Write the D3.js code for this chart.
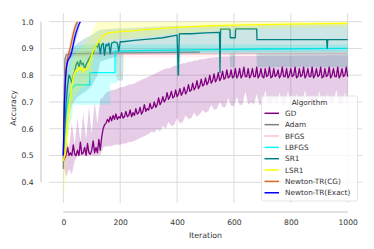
<!DOCTYPE html>
<html>
<head>
<meta charset="utf-8">
<script src="https://cdn.jsdelivr.net/npm/d3@7"></script>
<style>
  body { margin: 0; background: #fff; }
  text { font-family: "DejaVu Sans", sans-serif; fill: #333; }
</style>
</head>
<body>
<svg id="chart" width="374" height="249"></svg>
<script>
// ---- data ----
const algorithms = ["GD", "Adam", "BFGS", "LBFGS", "SR1", "LSR1", "Newton-TR(CG)", "Newton-TR(Exact)"];
const colors = ["#800080", "#808080", "#ffc0cb", "#00ffff", "#008080", "#ffff00", "#d2691e", "#0000ff"];
const xTicks = [0, 200, 400, 600, 800, 1000];
const yTicks = [0.4, 0.5, 0.6, 0.7, 0.8, 0.9, 1.0];

// GD mean, every 5 iterations (noisy)
const gdMeanIter = d3.range(0, 1001, 5);
const gdMean = [
  0.48, 0.49, 0.50, 0.53, 0.50, 0.51, 0.50, 0.54, 0.505, 0.50, 0.52, 0.50, 0.55, 0.505, 0.51, 0.53, 0.50, 0.545, 0.51, 0.505,
  0.52, 0.555, 0.51, 0.53, 0.51, 0.56, 0.52, 0.57, 0.60, 0.615, 0.62, 0.635, 0.625, 0.645, 0.63, 0.65, 0.635, 0.655, 0.635, 0.645,
  0.64, 0.66, 0.64, 0.645, 0.665, 0.645, 0.65, 0.67, 0.645, 0.66, 0.65, 0.675, 0.655, 0.66, 0.68, 0.655, 0.665, 0.69, 0.665, 0.675,
  0.67, 0.695, 0.675, 0.68, 0.70, 0.68, 0.69, 0.715, 0.69, 0.70, 0.72, 0.70, 0.71, 0.735, 0.71, 0.72, 0.74, 0.715, 0.72, 0.745,
  0.72, 0.73, 0.75, 0.725, 0.735, 0.755, 0.73, 0.74, 0.765, 0.74, 0.745, 0.77, 0.745, 0.755, 0.78, 0.75, 0.76, 0.785, 0.76, 0.765,
  0.79, 0.765, 0.775, 0.80, 0.77, 0.78, 0.805, 0.775, 0.785, 0.81, 0.78, 0.79, 0.815, 0.785, 0.79, 0.82, 0.79, 0.795, 0.82, 0.79,
  0.795, 0.825, 0.79, 0.80, 0.825, 0.79, 0.80, 0.83, 0.795, 0.795, 0.825, 0.79, 0.80, 0.825, 0.795, 0.795, 0.83, 0.79, 0.80, 0.825,
  0.795, 0.79, 0.825, 0.795, 0.80, 0.83, 0.79, 0.795, 0.825, 0.795, 0.80, 0.82, 0.79, 0.80, 0.83, 0.795, 0.795, 0.825, 0.79, 0.80,
  0.825, 0.795, 0.80, 0.83, 0.79, 0.795, 0.825, 0.795, 0.80, 0.83, 0.79, 0.80, 0.825, 0.795, 0.795, 0.83, 0.79, 0.80, 0.825, 0.795,
  0.80, 0.83, 0.79, 0.795, 0.825, 0.795, 0.80, 0.83, 0.79, 0.80, 0.825, 0.795, 0.795, 0.83, 0.79, 0.80, 0.825, 0.795, 0.80, 0.83,
  0.795
];
// GD confidence band, every 10 iterations
const gdBandIter = d3.range(0, 1001, 10);
const gdHi = [
  0.50, 0.56, 0.53, 0.62, 0.54, 0.64, 0.55, 0.66, 0.56, 0.68,
  0.58, 0.70, 0.62, 0.71, 0.72, 0.735, 0.74, 0.745, 0.745, 0.75,
  0.755, 0.755, 0.76, 0.765, 0.765, 0.77, 0.775, 0.78, 0.785, 0.79,
  0.795, 0.80, 0.805, 0.81, 0.815, 0.82, 0.825, 0.825, 0.83, 0.835,
  0.835, 0.84, 0.845, 0.845, 0.85, 0.85, 0.855, 0.855, 0.86, 0.86,
  0.862, 0.864, 0.865, 0.866, 0.868, 0.868, 0.87, 0.87, 0.87, 0.871,
  0.872, 0.872, 0.872, 0.872, 0.872, 0.872, 0.872, 0.872, 0.872, 0.872,
  0.872, 0.873, 0.873, 0.873, 0.873, 0.873, 0.873, 0.873, 0.873, 0.873,
  0.873, 0.873, 0.874, 0.874, 0.874, 0.874, 0.874, 0.874, 0.874, 0.874,
  0.874, 0.874, 0.874, 0.875, 0.875, 0.875, 0.875, 0.875, 0.875, 0.875,
  0.875
];
const gdLo = [
  0.46, 0.42, 0.45, 0.43, 0.48, 0.50, 0.50, 0.50, 0.50, 0.50,
  0.50, 0.50, 0.50, 0.50, 0.53, 0.535, 0.535, 0.535, 0.54, 0.54,
  0.54, 0.545, 0.545, 0.55, 0.55, 0.555, 0.56, 0.565, 0.57, 0.575,
  0.58, 0.59, 0.585, 0.60, 0.59, 0.61, 0.60, 0.625, 0.61, 0.615,
  0.64, 0.62, 0.625, 0.65, 0.635, 0.64, 0.66, 0.645, 0.655, 0.67,
  0.66, 0.665, 0.69, 0.67, 0.675, 0.70, 0.68, 0.68, 0.715, 0.685,
  0.685, 0.72, 0.69, 0.69, 0.74, 0.69, 0.70, 0.69, 0.73, 0.69,
  0.69, 0.745, 0.69, 0.69, 0.72, 0.69, 0.735, 0.69, 0.69, 0.74,
  0.69, 0.70, 0.73, 0.69, 0.69, 0.745, 0.69, 0.72, 0.69, 0.69,
  0.74, 0.69, 0.69, 0.73, 0.69, 0.70, 0.745, 0.69, 0.69, 0.735,
  0.69
];

// other algorithms: [iteration, mean] and [iteration, lo, hi]
const adamMean = [[0, 0.45], [3, 0.72], [6, 0.86], [10, 0.875], [20, 0.88], [100, 0.882], [200, 0.883], [300, 0.884], [400, 0.885], [480, 0.886]];
const adamBand = [[0, 0.4, 0.5], [2, 0.65, 0.8], [4, 0.7, 0.885], [16, 0.72, 0.885], [18, 0.87, 0.89], [100, 0.875, 0.89], [480, 0.878, 0.892]];

const bfgsMean = [[0, 0.5], [5, 0.72], [10, 0.84], [15, 0.87], [20, 0.876], [100, 0.878], [300, 0.879], [600, 0.88], [1000, 0.881]];
const bfgsBand = [[0, 0.47, 0.53], [5, 0.65, 0.8], [10, 0.8, 0.89], [20, 0.865, 0.895], [1000, 0.868, 0.895]];

const lbfgsMean = [[0, 0.5], [5, 0.58], [10, 0.66], [20, 0.72], [30, 0.75], [40, 0.762], [45, 0.764], [93, 0.764], [93, 0.81], [182, 0.81], [182, 0.89], [300, 0.893], [500, 0.896], [700, 0.898], [1000, 0.9]];
const lbfgsBand = [[0, 0.47, 0.53], [5, 0.5, 0.66], [10, 0.55, 0.76], [20, 0.6, 0.84], [30, 0.64, 0.89], [35, 0.69, 0.91], [165, 0.69, 0.92], [165, 0.77, 0.92], [190, 0.77, 0.92], [190, 0.885, 0.915], [400, 0.885, 0.915], [1000, 0.885, 0.915]];

const sr1Mean = [
  [0, 0.5], [5, 0.6], [10, 0.7], [15, 0.76], [20, 0.8], [25, 0.79], [30, 0.77], [35, 0.8], [40, 0.815], [45, 0.84],
  [50, 0.85], [55, 0.83], [60, 0.855], [65, 0.84], [70, 0.845], [75, 0.825], [80, 0.84], [85, 0.85], [90, 0.86], [95, 0.87],
  [100, 0.875], [105, 0.88], [110, 0.9], [115, 0.91], [120, 0.905], [125, 0.92], [130, 0.88], [135, 0.915], [140, 0.92], [145, 0.875],
  [150, 0.915], [155, 0.91], [160, 0.92], [165, 0.88], [170, 0.92], [180, 0.925], [190, 0.92], [195, 0.89], [200, 0.925], [210, 0.925],
  [250, 0.93], [300, 0.935], [350, 0.94], [400, 0.95], [404, 0.8], [408, 0.955], [450, 0.955], [500, 0.958], [549, 0.96], [551, 0.81],
  [553, 0.972], [586, 0.972], [587, 0.94], [605, 0.94], [606, 0.973], [680, 0.973], [681, 0.933], [926, 0.933], [928, 0.9], [930, 0.933],
  [1000, 0.933]
];
const sr1Band = [
  [0, 0.45, 0.55], [10, 0.55, 0.8], [20, 0.65, 0.88], [30, 0.69, 0.9], [50, 0.72, 0.92], [80, 0.74, 0.94], [100, 0.76, 0.95],
  [120, 0.8, 0.965], [130, 0.85, 0.97], [185, 0.87, 0.975], [188, 0.78, 0.975], [210, 0.78, 0.975], [212, 0.88, 0.975],
  [300, 0.88, 0.98], [398, 0.88, 0.985], [400, 0.8, 0.985], [410, 0.8, 0.985], [412, 0.88, 0.985], [585, 0.88, 0.985],
  [587, 0.83, 0.985], [603, 0.83, 0.985], [605, 0.88, 0.985], [679, 0.88, 0.985], [681, 0.83, 0.99], [1000, 0.83, 0.99]
];

const lsr1Mean = [
  [0, 0.48], [5, 0.5], [10, 0.55], [15, 0.62], [20, 0.68], [25, 0.72], [30, 0.76], [35, 0.795], [40, 0.81], [45, 0.82],
  [50, 0.815], [55, 0.83], [60, 0.82], [65, 0.83], [70, 0.81], [75, 0.825], [80, 0.82], [85, 0.825], [90, 0.84], [95, 0.86],
  [100, 0.875], [105, 0.89], [110, 0.9], [115, 0.91], [120, 0.92], [130, 0.935], [140, 0.948], [150, 0.955], [170, 0.96], [200, 0.963],
  [250, 0.967], [300, 0.971], [350, 0.975], [400, 0.979], [500, 0.984], [600, 0.987], [700, 0.989], [800, 0.991], [1000, 0.994]
];
const lsr1Band = [
  [0, 0.35, 0.5], [5, 0.38, 0.58], [10, 0.45, 0.65], [20, 0.6, 0.76], [30, 0.68, 0.85], [40, 0.72, 0.88], [60, 0.75, 0.9],
  [80, 0.76, 0.92], [100, 0.8, 0.96], [110, 0.87, 0.985], [120, 0.9, 1.0], [130, 0.91, 1.0], [150, 0.925, 1.0], [200, 0.935, 1.0],
  [300, 0.945, 1.0], [400, 0.955, 1.0], [500, 0.963, 1.0], [600, 0.97, 1.0], [700, 0.974, 1.0], [1000, 0.98, 1.0]
];

const cgMean = [[0, 0.5], [3, 0.66], [6, 0.76], [10, 0.83], [15, 0.865], [20, 0.885], [25, 0.905], [30, 0.93], [35, 0.955], [40, 0.975], [45, 0.99], [50, 1.0]];
const cgBand = [[0, 0.5, 0.5], [3, 0.64, 0.68], [6, 0.74, 0.78], [10, 0.81, 0.85], [15, 0.85, 0.88], [20, 0.87, 0.905], [25, 0.885, 0.935], [30, 0.905, 0.96], [35, 0.93, 0.98], [40, 0.955, 0.995], [45, 0.975, 1.0], [50, 0.99, 1.0]];

const exactMean = [[0, 0.5], [2, 0.62], [4, 0.7], [6, 0.75], [8, 0.79], [10, 0.82], [12, 0.835], [15, 0.85], [18, 0.86], [22, 0.865], [26, 0.875], [30, 0.89], [35, 0.915], [40, 0.94], [45, 0.96], [50, 0.975], [55, 0.99], [60, 1.0]];
const exactBand = [[0, 0.5, 0.5], [2, 0.6, 0.64], [4, 0.68, 0.72], [6, 0.73, 0.77], [8, 0.77, 0.81], [10, 0.8, 0.84], [12, 0.82, 0.85], [15, 0.84, 0.86], [18, 0.85, 0.87], [22, 0.855, 0.88], [26, 0.865, 0.89], [30, 0.875, 0.91], [35, 0.895, 0.94], [40, 0.915, 0.965], [45, 0.935, 0.985], [50, 0.95, 0.995], [55, 0.97, 1.0], [60, 0.99, 1.0]];

// build the series table from the arrays above
const series = [
  { mean: gdMeanIter.map((t, i) => [t, gdMean[i]]), band: gdBandIter.map((t, i) => [t, gdLo[i], gdHi[i]]), lw: 1.3 },
  { mean: adamMean, band: adamBand, lw: 1.3 },
  { mean: bfgsMean, band: bfgsBand, lw: 1.3 },
  { mean: lbfgsMean, band: lbfgsBand, lw: 1.3 },
  { mean: sr1Mean, band: sr1Band, lw: 1.3 },
  { mean: lsr1Mean, band: lsr1Band, lw: 1.3 },
  { mean: cgMean, band: cgBand, lw: 1.3 },
  { mean: exactMean, band: exactBand, lw: 1.3 }
];
series.forEach((s, i) => { s.name = algorithms[i]; s.color = colors[i]; });

// ---- layout ----
const svg = d3.select('#chart');
const x = d3.scaleLinear().domain([-50, 1050]).range([49.1, 361.9]);
const y = d3.scaleLinear().domain([0.3225, 1.0325]).range([203, 13]);

svg.append('rect').attr('width', 374).attr('height', 249).attr('fill', '#fff');

// grid
svg.append('g').selectAll('line').data(xTicks).join('line')
  .attr('x1', d => x(d)).attr('x2', d => x(d))
  .attr('y1', y.range()[1]).attr('y2', y.range()[0])
  .attr('stroke', '#dcdcdc').attr('stroke-width', 1);
svg.append('g').selectAll('line').data(yTicks).join('line')
  .attr('y1', d => y(d)).attr('y2', d => y(d))
  .attr('x1', x.range()[0]).attr('x2', x.range()[1])
  .attr('stroke', '#dcdcdc').attr('stroke-width', 1);

// data
const plot = svg.append('g');
const line = d3.line().x(d => x(d[0])).y(d => y(d[1]));
const area = d3.area().x(d => x(d[0])).y0(d => y(d[1])).y1(d => y(d[2]));

series.forEach(s => {
  plot.append('path').datum(s.mean)
    .attr('d', line)
    .attr('fill', 'none')
    .attr('stroke', s.color)
    .attr('stroke-width', s.lw)
    .attr('stroke-linejoin', 'round');
  plot.append('path').datum(s.band)
    .attr('d', area)
    .attr('fill', s.color)
    .attr('fill-opacity', 0.2);
});

// trimmed, offset spines
svg.append('line')
  .attr('x1', 41).attr('x2', 41)
  .attr('y1', y(1.0)).attr('y2', y(0.4))
  .attr('stroke', '#d6d6d6').attr('stroke-width', 1.5);
svg.append('line')
  .attr('x1', x(0)).attr('x2', x(1000))
  .attr('y1', 212).attr('y2', 212)
  .attr('stroke', '#d6d6d6').attr('stroke-width', 1.5);

// axes (labels only)
const xAxis = svg.append('g').attr('transform', 'translate(0,212)')
  .call(d3.axisBottom(x).tickValues(xTicks).tickFormat(d3.format('d')).tickSize(0).tickPadding(7.3));
const yAxis = svg.append('g').attr('transform', 'translate(41,0)')
  .call(d3.axisLeft(y).tickValues(yTicks).tickFormat(d3.format('.1f')).tickSize(0).tickPadding(7.5));
[xAxis, yAxis].forEach(a => {
  a.select('.domain').remove();
  a.selectAll('text').attr('font-size', 7.6).attr('font-family', '"DejaVu Sans", sans-serif').attr('fill', '#333');
});

svg.append('text')
  .attr('x', 205.5).attr('y', 237.5)
  .attr('text-anchor', 'middle')
  .attr('font-size', 7.8)
  .text('Iteration');
svg.append('text')
  .attr('transform', 'translate(15.5,108) rotate(-90)')
  .attr('text-anchor', 'middle')
  .attr('font-size', 7.8)
  .text('Accuracy');

// legend
const lg = svg.append('g').attr('transform', 'translate(261.5,96)');
lg.append('rect')
  .attr('width', 96).attr('height', 105).attr('rx', 2)
  .attr('fill', '#fff').attr('fill-opacity', 0.8)
  .attr('stroke', '#dedede').attr('stroke-width', 0.8);
lg.append('text')
  .attr('x', 48).attr('y', 8.7)
  .attr('text-anchor', 'middle')
  .attr('font-size', 7.3)
  .text('Algorithm');
const rows = lg.selectAll('g.row').data(series).join('g')
  .attr('class', 'row')
  .attr('transform', (d, i) => `translate(0,${17.3 + i * 11.35})`);
rows.append('line')
  .attr('x1', 3).attr('x2', 17.5)
  .attr('stroke', d => d.color).attr('stroke-width', 1.5);
rows.append('text')
  .attr('x', 23.5).attr('y', 2.6)
  .attr('font-size', 7.3)
  .text(d => d.name);
</script>
</body>
</html>
